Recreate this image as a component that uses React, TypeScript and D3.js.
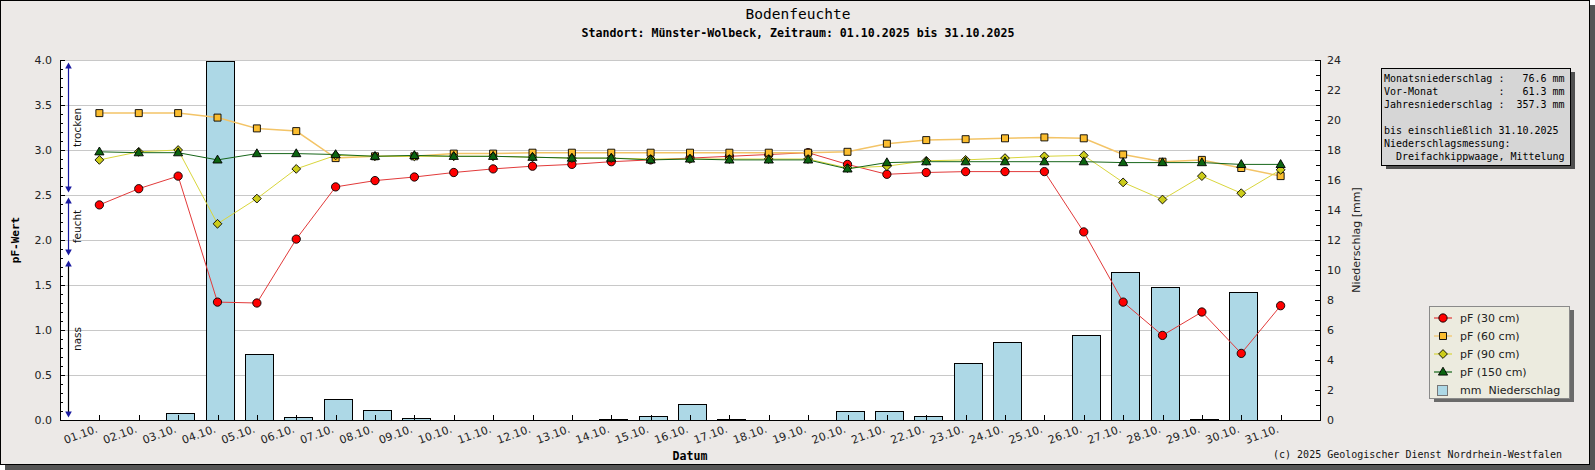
import React, { useEffect, useRef } from 'react';
import * as d3 from 'd3';

// Tageswerte Oktober 2025
const dayLabels = [
    '01.10.', '02.10.', '03.10.', '04.10.', '05.10.', '06.10.', '07.10.', '08.10.',
    '09.10.', '10.10.', '11.10.', '12.10.', '13.10.', '14.10.', '15.10.', '16.10.',
    '17.10.', '18.10.', '19.10.', '20.10.', '21.10.', '22.10.', '23.10.', '24.10.',
    '25.10.', '26.10.', '27.10.', '28.10.', '29.10.', '30.10.', '31.10.',
];

const pf30 = [2.39, 2.57, 2.71, 1.31, 1.30, 2.01, 2.59, 2.66, 2.70, 2.75, 2.79, 2.82, 2.84, 2.87, 2.89, 2.91,
    2.93, 2.95, 2.97, 2.84, 2.73, 2.75, 2.76, 2.76, 2.76, 2.09, 1.31, 0.94, 1.20, 0.74, 1.27];
const pf60 = [3.41, 3.41, 3.41, 3.36, 3.24, 3.21, 2.91, 2.93, 2.93, 2.96, 2.96, 2.97, 2.97, 2.97, 2.97, 2.97,
    2.97, 2.97, 2.97, 2.98, 3.07, 3.11, 3.12, 3.13, 3.14, 3.13, 2.95, 2.87, 2.89, 2.80, 2.71];
const pf90 = [2.89, 2.98, 3.00, 2.18, 2.46, 2.79, 2.94, 2.93, 2.93, 2.93, 2.93, 2.92, 2.91, 2.91, 2.90, 2.90,
    2.90, 2.90, 2.90, 2.80, 2.82, 2.88, 2.89, 2.91, 2.93, 2.94, 2.64, 2.45, 2.71, 2.52, 2.78];
const pf150 = [2.98, 2.97, 2.97, 2.89, 2.96, 2.96, 2.95, 2.93, 2.94, 2.93, 2.93, 2.92, 2.91, 2.91, 2.89, 2.90,
    2.89, 2.89, 2.89, 2.79, 2.86, 2.87, 2.87, 2.87, 2.87, 2.87, 2.86, 2.86, 2.86, 2.84, 2.84];
const rain = [0, 0, 0.5, 23.95, 4.4, 0.2, 1.4, 0.7, 0.13, 0, 0, 0, 0, 0.07, 0.3, 1.1,
    0.1, 0, 0, 0.6, 0.6, 0.3, 3.8, 5.2, 0, 5.7, 9.9, 8.9, 0.08, 8.5, 0];

const pfTicks = [0, 0.5, 1, 1.5, 2, 2.5, 3, 3.5, 4];
const mmTicks = [0, 2, 4, 6, 8, 10, 12, 14, 16, 18, 20, 22, 24];

const infoLines = [
    'Monatsniederschlag :   76.6 mm',
    'Vor-Monat          :   61.3 mm',
    'Jahresniederschlag :  357.3 mm',
    '',
    'bis einschließlich 31.10.2025',
    'Niederschlagsmessung:',
    '  Dreifachkippwaage, Mittelung',
];

type Shape = 'circle' | 'square' | 'diamond' | 'triangle';

interface Series {
    name: string;
    values: number[];
    line: string;
    fill: string;
    shape: Shape;
    width: number;
}

const series: Series[] = [
    { name: 'pF (30 cm)', values: pf30, line: '#e23a3a', fill: '#ff0000', shape: 'circle', width: 1 },
    { name: 'pF (60 cm)', values: pf60, line: '#f3c467', fill: '#fbbd2e', shape: 'square', width: 1.5 },
    { name: 'pF (90 cm)', values: pf90, line: '#d9d63c', fill: '#cccc1a', shape: 'diamond', width: 1 },
    { name: 'pF (150 cm)', values: pf150, line: '#17661a', fill: '#0b6410', shape: 'triangle', width: 1 },
];

const W = 1595;
const H = 470;
const LEFT = 60;
const RIGHT = 1320;
const TOP = 60;
const BOTTOM = 420;

const MONO = '"DejaVu Sans Mono", monospace';
const SANS = '"DejaVu Sans", sans-serif';

const markerPath = (shape: Shape): string => {
    switch (shape) {
        case 'circle':
            return d3.symbol().type(d3.symbolCircle).size(54)() || '';
        case 'square':
            return 'M-3.5,-3.5H3.5V3.5H-3.5Z';
        case 'diamond':
            return 'M0,-4.4L4.4,0L0,4.4L-4.4,0Z';
        case 'triangle':
            return 'M0,-4.8L4.6,3.1H-4.6Z';
    }
};

const Chart: React.FC = () => {
    const svgRef = useRef<SVGSVGElement>(null);

    useEffect(() => {
        if (!svgRef.current) return;
        const svg = d3.select(svgRef.current);
        svg.selectAll('*').remove();

        const x = d3.scaleLinear().domain([0, dayLabels.length + 1]).range([LEFT, RIGHT]);
        const yPf = d3.scaleLinear().domain([0, 4]).range([BOTTOM, TOP]);
        const yMm = d3.scaleLinear().domain([0, 24]).range([BOTTOM, TOP]);

        // Rahmen mit Schatten
        svg.append('rect').attr('x', 5).attr('y', 5).attr('width', W - 5).attr('height', H - 5).attr('fill', '#555');
        svg.append('rect').attr('x', 0.5).attr('y', 0.5).attr('width', 1589).attr('height', 464)
            .attr('fill', '#ece9e7').attr('stroke', '#000');

        // Plotfläche
        svg.append('rect').attr('x', LEFT).attr('y', TOP).attr('width', RIGHT - LEFT).attr('height', BOTTOM - TOP)
            .attr('fill', '#fff');

        // Gitterlinien
        svg.append('g').selectAll('line').data(pfTicks.filter(t => t > 0)).join('line')
            .attr('x1', LEFT).attr('x2', RIGHT)
            .attr('y1', d => yPf(d) + 0.5).attr('y2', d => yPf(d) + 0.5)
            .attr('stroke', '#c8c8c8');

        // Niederschlagsbalken
        svg.append('g').selectAll('rect')
            .data(rain.map((v, i) => ({ v, i })).filter(d => d.v > 0))
            .join('rect')
            .attr('x', d => Math.round(x(d.i + 1)) - 12 + 0.5)
            .attr('y', d => Math.round(yMm(d.v)) + 0.5)
            .attr('width', 28)
            .attr('height', d => BOTTOM - Math.round(yMm(d.v)))
            .attr('fill', '#add8e6')
            .attr('stroke', '#000');

        // Achsen
        const axes = svg.append('g').attr('stroke', '#000').attr('shape-rendering', 'crispEdges');
        axes.append('line').attr('x1', LEFT + 0.5).attr('x2', LEFT + 0.5).attr('y1', TOP).attr('y2', BOTTOM + 1);
        axes.append('line').attr('x1', RIGHT + 0.5).attr('x2', RIGHT + 0.5).attr('y1', TOP).attr('y2', BOTTOM + 1);
        axes.append('line').attr('x1', LEFT).attr('x2', RIGHT + 1).attr('y1', BOTTOM + 0.5).attr('y2', BOTTOM + 0.5);

        // Ticks links (0.1er)
        axes.selectAll('.tl').data(d3.range(0, 41)).join('line')
            .attr('x1', LEFT).attr('x2', d => LEFT + (d % 5 === 0 ? 5 : 3))
            .attr('y1', d => Math.round(yPf(d / 10)) + 0.5).attr('y2', d => Math.round(yPf(d / 10)) + 0.5);
        // Ticks rechts
        axes.selectAll('.tr').data(d3.range(0, 25)).join('line')
            .attr('x1', RIGHT).attr('x2', d => RIGHT - (d % 2 === 0 ? 5 : 4))
            .attr('y1', d => Math.round(yMm(d)) + 0.5).attr('y2', d => Math.round(yMm(d)) + 0.5);
        // Ticks unten
        axes.selectAll('.tb').data(dayLabels).join('line')
            .attr('x1', (_, i) => Math.round(x(i + 1)) + 0.5).attr('x2', (_, i) => Math.round(x(i + 1)) + 0.5)
            .attr('y1', BOTTOM).attr('y2', BOTTOM - 5);

        // Achsenbeschriftungen
        svg.append('g').selectAll('text').data(pfTicks).join('text')
            .attr('x', 52).attr('y', d => yPf(d) + 4)
            .attr('text-anchor', 'end').attr('font-family', SANS).attr('font-size', 11).attr('fill', '#222')
            .text(d => d.toFixed(1));
        svg.append('g').selectAll('text').data(mmTicks).join('text')
            .attr('x', 1327).attr('y', d => yMm(d) + 4)
            .attr('font-family', SANS).attr('font-size', 11).attr('fill', '#222')
            .text(d => String(d));
        svg.append('g').selectAll('text').data(dayLabels).join('text')
            .attr('transform', (_, i) => `translate(${x(i + 1) - 1},${432}) rotate(-20)`)
            .attr('text-anchor', 'end').attr('font-family', SANS).attr('font-size', 11).attr('fill', '#222')
            .text(d => d);

        // Feuchtebereiche
        const ax = 68.5;
        const zones = [
            { label: 'trocken', top: 4.0, bottom: 2.5, color: '#1a1aa0' },
            { label: 'feucht', top: 2.5, bottom: 1.8, color: '#1a1aa0' },
            { label: 'nass', top: 1.8, bottom: 0, color: '#000' },
        ];
        const zg = svg.append('g');
        zones.forEach(z => {
            const y1 = yPf(z.top) + 2.5;
            const y2 = yPf(z.bottom) - 2.5;
            zg.append('line').attr('x1', ax).attr('x2', ax).attr('y1', y1 + 3).attr('y2', y2 - 3)
                .attr('stroke', z.color).attr('stroke-width', 1.2);
            zg.append('path').attr('d', `M${ax},${y1}L${ax + 3.3},${y1 + 6}L${ax - 3.3},${y1 + 6}Z`).attr('fill', '#1a1aa0');
            zg.append('path').attr('d', `M${ax},${y2}L${ax + 3.3},${y2 - 6}L${ax - 3.3},${y2 - 6}Z`).attr('fill', '#1a1aa0');
            const cy = (yPf(z.top) + yPf(z.bottom)) / 2;
            zg.append('text').attr('transform', `translate(81,${cy}) rotate(-90)`)
                .attr('text-anchor', 'middle').attr('font-family', SANS).attr('font-size', 10.5).attr('fill', '#111')
                .text(z.label);
        });

        // Messreihen
        const line = d3.line<number>().x((_, i) => x(i + 1)).y(d => yPf(d));
        series.forEach(s => {
            const g = svg.append('g');
            g.append('path').attr('d', line(s.values) || '').attr('fill', 'none')
                .attr('stroke', s.line).attr('stroke-width', s.width);
            g.selectAll('path.m').data(s.values).join('path').attr('class', 'm')
                .attr('transform', (d, i) => `translate(${x(i + 1)},${yPf(d)})`)
                .attr('d', markerPath(s.shape))
                .attr('fill', s.fill).attr('stroke', '#000').attr('stroke-width', 0.9);
        });

        // Titel
        svg.append('text').attr('x', 798).attr('y', 19).attr('text-anchor', 'middle')
            .attr('font-family', MONO).attr('font-size', 14.5).attr('fill', '#000').text('Bodenfeuchte');
        svg.append('text').attr('x', 798).attr('y', 37).attr('text-anchor', 'middle')
            .attr('font-family', MONO).attr('font-weight', 'bold').attr('font-size', 11.6).attr('fill', '#000')
            .text('Standort: Münster-Wolbeck, Zeitraum: 01.10.2025 bis 31.10.2025');

        svg.append('text').attr('transform', `translate(19,${(TOP + BOTTOM) / 2}) rotate(-90)`)
            .attr('text-anchor', 'middle').attr('font-family', MONO).attr('font-weight', 'bold').attr('font-size', 11)
            .text('pF-Wert');
        svg.append('text').attr('transform', `translate(1360,${(TOP + BOTTOM) / 2}) rotate(-90)`)
            .attr('text-anchor', 'middle').attr('font-family', SANS).attr('font-size', 11).attr('fill', '#222')
            .text('Niederschlag [mm]');
        svg.append('text').attr('x', (LEFT + RIGHT) / 2).attr('y', 460).attr('text-anchor', 'middle')
            .attr('font-family', MONO).attr('font-weight', 'bold').attr('font-size', 11.6).text('Datum');
        svg.append('text').attr('x', 1562).attr('y', 458).attr('text-anchor', 'end')
            .attr('font-family', MONO).attr('font-size', 10).attr('fill', '#111')
            .text('(c) 2025 Geologischer Dienst Nordrhein-Westfalen');

        // Infobox
        svg.append('rect').attr('x', 1386).attr('y', 72).attr('width', 189).attr('height', 97).attr('fill', '#505050');
        svg.append('rect').attr('x', 1381.5).attr('y', 68.5).attr('width', 189).attr('height', 97)
            .attr('fill', '#d6d6d6').attr('stroke', '#000');
        svg.append('g').selectAll('text').data(infoLines).join('text')
            .attr('x', 1384).attr('y', (_, i) => 82 + i * 13)
            .attr('font-family', MONO).attr('font-size', 10).attr('fill', '#000')
            .style('white-space', 'pre')
            .text(d => d);

        // Legende
        svg.append('rect').attr('x', 1434).attr('y', 310).attr('width', 140).attr('height', 92).attr('fill', '#6a6a6a');
        svg.append('rect').attr('x', 1429.5).attr('y', 306.5).attr('width', 140).attr('height', 92)
            .attr('fill', '#ecebdf').attr('stroke', '#8a8a8a');
        const lg = svg.append('g');
        series.forEach((s, i) => {
            const cy = 318 + i * 18;
            lg.append('line').attr('x1', 1434).attr('x2', 1452).attr('y1', cy).attr('y2', cy)
                .attr('stroke', s.line).attr('stroke-width', 1.2);
            lg.append('path').attr('transform', `translate(1443,${cy})`).attr('d', markerPath(s.shape))
                .attr('fill', s.fill).attr('stroke', '#000').attr('stroke-width', 0.9);
            lg.append('text').attr('x', 1460).attr('y', cy + 4).attr('font-family', SANS).attr('font-size', 11)
                .attr('fill', '#222').text(s.name);
        });
        lg.append('rect').attr('x', 1437.5).attr('y', 385.5).attr('width', 10).attr('height', 10)
            .attr('fill', '#add8e6').attr('stroke', '#777');
        lg.append('text').attr('x', 1460).attr('y', 394).attr('font-family', SANS).attr('font-size', 11)
            .attr('fill', '#222').style('white-space', 'pre').text('mm  Niederschlag');
    }, []);

    return (
        <div style={{ position: 'absolute', left: 0, top: 0 }}>
            <svg ref={svgRef} width={W} height={H} style={{ display: 'block' }} />
        </div>
    );
};

export default function App() {
    return <Chart />;
}
